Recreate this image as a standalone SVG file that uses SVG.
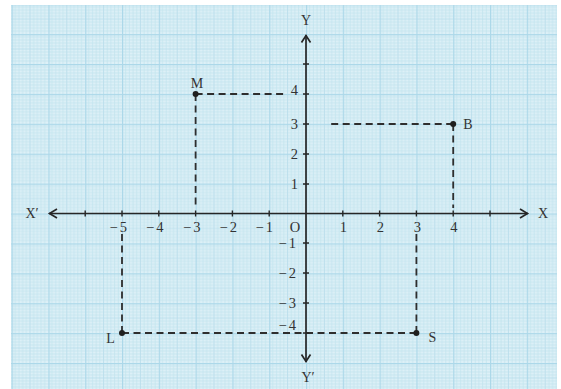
<svg xmlns="http://www.w3.org/2000/svg" width="561" height="389" viewBox="0 0 561 389">
<defs>
<pattern id="grid" patternUnits="userSpaceOnUse" x="306" y="213.5" width="36.8" height="29.9">
<rect width="36.8" height="29.9" fill="#ddf0f7"/>
<path d="M3.68 0V29.9M7.36 0V29.9M11.04 0V29.9M14.72 0V29.9M22.08 0V29.9M25.76 0V29.9M29.44 0V29.9M33.12 0V29.9M0 2.99H36.8M0 5.98H36.8M0 8.97H36.8M0 11.96H36.8M0 17.94H36.8M0 20.93H36.8M0 23.92H36.8M0 26.91H36.8" stroke="#c2e3ee" stroke-width="0.8" fill="none"/>
<path d="M18.4 0V29.9M0 14.95H36.8" stroke="#b9deeb" stroke-width="0.9" fill="none"/>
<path d="M0.6 0V29.9M0 0.6H36.8" stroke="#acd8e9" stroke-width="1.2" fill="none"/>
</pattern>
<style>
.ax{stroke:#262626;stroke-width:1.7;fill:none}
.tk{stroke:#262626;stroke-width:1.4;fill:none}
.ds{stroke:#2e2e2e;stroke-width:1.8;fill:none;stroke-dasharray:7 4.5}
.num{font-family:"Liberation Serif",serif;font-size:14.5px;fill:#333333}
.lab{font-family:"Liberation Serif",serif;font-size:14px;fill:#333333}
.pt{fill:#1f1f1f}
</style>
</defs>
<rect width="561" height="389" fill="#ffffff"/>
<rect x="11" y="5" width="546" height="384" fill="url(#grid)"/>

<g id="connectors">
<path class="ds" d="M195.6 94H287"/>
<path class="ds" d="M195.6 94V208"/>
<path class="ds" d="M453.2 124H330"/>
<path class="ds" d="M453.2 124V208"/>
<path class="ds" d="M122 333V230"/>
<path class="ds" d="M122 333H416"/>
<path class="ds" d="M416.4 333V230"/>
</g>

<g id="axes">
<path class="ax" d="M49 213.5H528"/>
<path class="ax" d="M306 35V362"/>
<path class="ax" d="M57 209L49.5 213.5L57 218"/>
<path class="ax" d="M520 209L527.5 213.5L520 218"/>
<path class="ax" d="M301.5 42.5L306 35.5L310.5 42.5"/>
<path class="ax" d="M301.5 354.5L306 361.5L310.5 354.5"/>
<path class="tk" d="M85.2 210.5V216.5M122 210.5V216.5M158.8 210.5V216.5M195.6 210.5V216.5M232.4 210.5V216.5M269.2 210.5V216.5M342.8 210.5V216.5M379.6 210.5V216.5M416.4 210.5V216.5M453.2 210.5V216.5M490 210.5V216.5"/>
<path class="tk" d="M303 64H309M303 94H309M303 124H309M303 154H309M303 184H309M303 243H309M303 273H309M303 303H309M303 333H309"/>
</g>

<g id="axis-labels">
<text class="lab" x="32" y="218" text-anchor="middle">X′</text>
<text class="lab" x="543" y="218" text-anchor="middle">X</text>
<text class="lab" x="306" y="25" text-anchor="middle">Y</text>
<text class="lab" x="308" y="382" text-anchor="middle">Y′</text>
<text class="num" x="295" y="232" text-anchor="middle">O</text>
</g>

<g id="x-ticks-labels" class="num" text-anchor="end">
<text x="129" y="232" letter-spacing="2">−5</text>
<text x="165.5" y="232" letter-spacing="2">−4</text>
<text x="202.5" y="232" letter-spacing="2">−3</text>
<text x="239" y="232" letter-spacing="2">−2</text>
<text x="275" y="232" letter-spacing="2">−1</text>
<text x="347" y="232">1</text>
<text x="384" y="232">2</text>
<text x="421" y="232">3</text>
<text x="457.5" y="232">4</text>
</g>

<g id="y-ticks-labels" class="num" text-anchor="end">
<text x="298" y="95">4</text>
<text x="298" y="129">3</text>
<text x="298" y="159">2</text>
<text x="298" y="189">1</text>
<text x="298" y="248" letter-spacing="2">−1</text>
<text x="298" y="278" letter-spacing="2">−2</text>
<text x="298" y="308" letter-spacing="2">−3</text>
<text x="298" y="330" letter-spacing="2">−4</text>
</g>

<g id="M">
<circle class="pt" cx="195.6" cy="94" r="3"/>
<text class="lab" x="197" y="88" text-anchor="middle">M</text>
</g>
<g id="B">
<circle class="pt" cx="453.2" cy="124" r="3"/>
<text class="lab" x="468" y="129" text-anchor="middle">B</text>
</g>
<g id="L">
<circle class="pt" cx="122" cy="333" r="3"/>
<text class="lab" x="110.5" y="343" text-anchor="middle">L</text>
</g>
<g id="S">
<circle class="pt" cx="416.4" cy="333" r="3"/>
<text class="lab" x="432.5" y="342" text-anchor="middle">S</text>
</g>
</svg>
